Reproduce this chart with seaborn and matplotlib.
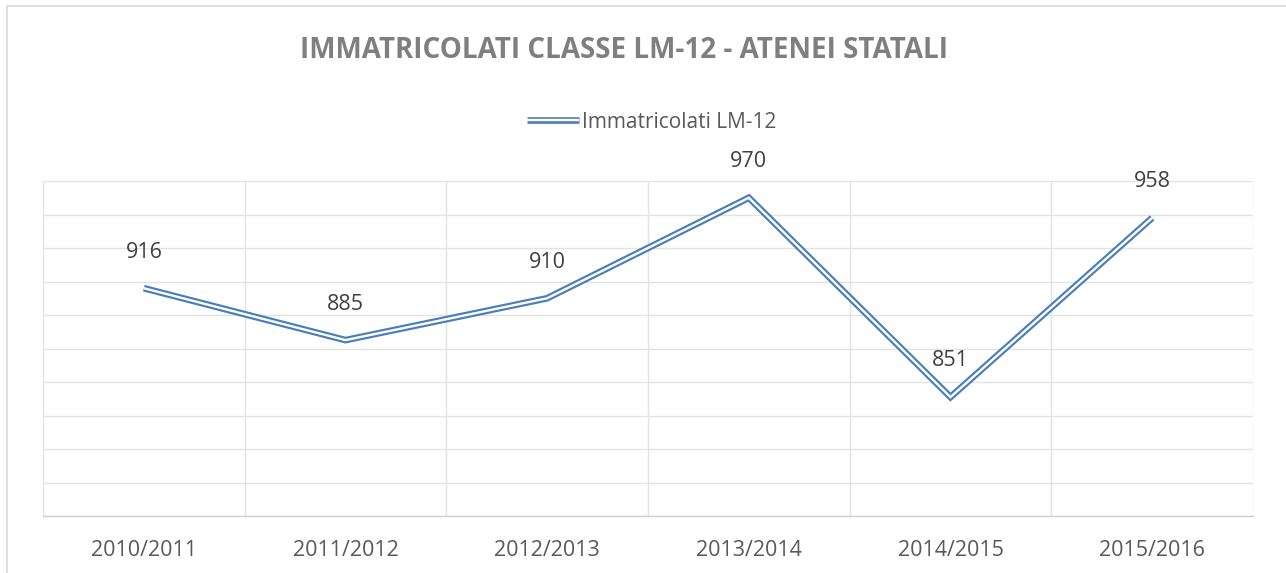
import numpy as np
import pandas as pd
import seaborn as sns
import matplotlib.pyplot as plt
from matplotlib.lines import Line2D
from matplotlib.patches import Rectangle

# data
years = ["2010/2011", "2011/2012", "2012/2013", "2013/2014", "2014/2015", "2015/2016"]
immatricolati = [916, 885, 910, 970, 851, 958]
series_name = "Immatricolati LM-12"
title = "IMMATRICOLATI CLASSE LM-12 - ATENEI STATALI"

df = pd.DataFrame({"anno": years, "valore": immatricolati})

sns.set_theme(style="white")
plt.rcParams["font.family"] = ["Open Sans", "DejaVu Sans"]

BLUE = "#4a7ebb"
GRID = "#e3e3e3"
LW_OUT, LW_IN = 4.8, 1.7

fig = plt.figure(figsize=(12.86, 5.73), dpi=100)
ax = fig.add_axes([43 / 1286, 1 - 516 / 573, (1253 - 43) / 1286, (516 - 181) / 573])

# double line: thick blue, thin white on top
sns.lineplot(data=df, x="anno", y="valore", ax=ax, color=BLUE, linewidth=LW_OUT,
             sort=False, solid_joinstyle="miter", solid_capstyle="butt")
sns.lineplot(data=df, x="anno", y="valore", ax=ax, color="white", linewidth=LW_IN,
             sort=False, solid_joinstyle="miter", solid_capstyle="butt")

ax.set_xlim(-0.5, len(years) - 0.5)
ax.set_ylim(780, 980)
ax.set_yticks(np.arange(780, 981, 20))
ax.set_yticklabels([])
ax.set_xticks(range(len(years)))
ax.set_xticklabels(years, fontsize=15.5, color="#595959")
ax.set_xticks(np.arange(-0.5, len(years), 1), minor=True)
ax.tick_params(axis="x", which="both", length=0, pad=17)
ax.tick_params(axis="y", length=0)
ax.grid(False)
ax.yaxis.grid(True, color=GRID, linewidth=1)
ax.xaxis.grid(True, which="minor", color=GRID, linewidth=1)
ax.set_axisbelow(True)
ax.set_xlabel("")
ax.set_ylabel("")
for side in ["top", "right", "left"]:
    ax.spines[side].set_visible(False)
ax.spines["bottom"].set_color("#d0d0d0")
ax.spines["bottom"].set_linewidth(1)

# value labels
for i, v in enumerate(immatricolati):
    ax.annotate(str(v), (i, v), xytext=(0, 26), textcoords="offset points",
                ha="center", va="center", fontsize=15.5, color="#404040")

# legend with double-line handle
h_blue = Line2D([], [], color=BLUE, linewidth=LW_OUT, solid_capstyle="butt")
h_white = Line2D([], [], color="white", linewidth=LW_IN, solid_capstyle="butt")
fig.legend([(h_blue, h_white)], [series_name], loc="center", bbox_to_anchor=(652 / 1286, 1 - 122 / 573),
           frameon=False, fontsize=15, labelcolor="#595959", handlelength=2.5, handletextpad=0.15)

fig.text(624 / 1286, 1 - 51 / 573, title, ha="center", va="center", fontsize=20,
         fontweight="bold", color="#7f7f7f")

# chart border
fig.patches.append(Rectangle((7 / 1286, -0.05), 1.2, 1 - 6 / 573 + 0.05, transform=fig.transFigure,
                             fill=False, edgecolor="#d9d9d9", linewidth=1.2))

fig.savefig("out.png", dpi=100)
